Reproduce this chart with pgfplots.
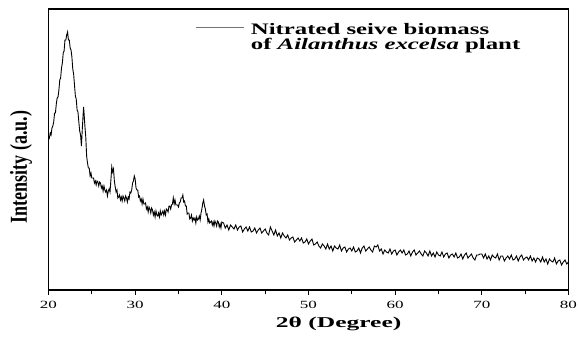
\documentclass[border=0pt]{standalone}
\usepackage{fontspec}
\setmainfont{Liberation Serif}
\usepackage{graphicx}
\usepackage{pgfplots}
\pgfplotsset{compat=1.18}
\begin{document}
\begin{tikzpicture}
\useasboundingbox (-48.5pt,-47pt) rectangle (529.5pt,290pt);
\begin{axis}[
  width=520pt, height=281pt, scale only axis,
  xmin=20, xmax=80, ymin=0, ymax=281,
  xtick={20,30,...,80}, minor xtick={25,35,...,75},
  ytick=\empty,
  xtick pos=left,
  tick align=outside,
  major tick length=5pt, minor tick length=4pt,
  every tick/.style={black, line width=1.2pt},
  axis line style={line width=1.6pt},
  /pgf/number format/assume math mode=true,
  xticklabel={\scalebox{1.55}[1]{\pgfmathprintnumber{\tick}}},
  xticklabel style={font=\fontsize{11}{11}\selectfont, yshift=-3pt},
  xlabel={\scalebox{1.7}[1]{\textbf{2θ (Degree)}}},
  xlabel style={font=\fontsize{15}{15}\selectfont, at={(axis description cs:0.558,-0.1317)}, anchor=base},
  ylabel={\scalebox{1}[1.35]{\textbf{Intensity (a.u.)}}},
  ylabel style={font=\fontsize{18}{18}\selectfont, at={(axis description cs:-0.0529,0.438)}, anchor=center},
  legend style={at={(axis description cs:0.2817,0.955)}, anchor=north west, draw=none, fill=none,
    font=\fontsize{16}{16}\selectfont\bfseries, row sep=-2pt, inner sep=0pt, column sep=5pt},
  legend cell align=left,
  legend image code/.code={\draw[black!55, line width=0.7pt] (0pt,3pt) -- (48pt,3pt);},
]
\addplot[black, line width=0.9pt] coordinates {
(20.0,154) (20.1,152) (20.2,157) (20.3,155) (20.4,162) (20.5,164) (20.6,168) (20.7,177) (20.8,177) (20.9,186)
(21.0,192) (21.1,193) (21.2,200) (21.3,210) (21.4,212) (21.5,222) (21.6,227) (21.7,237) (21.8,239) (21.9,250)
(22.0,250) (22.1,255) (22.2,258) (22.3,250) (22.4,250) (22.5,242) (22.6,240) (22.7,233) (22.8,221) (22.9,216)
(23.0,205) (23.1,194) (23.2,191) (23.3,180) (23.4,178) (23.5,168) (23.6,159) (23.7,155) (23.8,144) (23.9,161)
(24.0,176) (24.05,183) (24.1,177) (24.2,164) (24.3,153) (24.4,134) (24.5,127) (24.6,122) (24.7,122) (24.8,114) (24.9,117)
(25.0,112) (25.1,112) (25.2,112) (25.3,107) (25.4,109) (25.5,105) (25.6,109) (25.7,108) (25.8,104) (25.9,108)
(26.0,107) (26.1,102) (26.2,104) (26.3,99) (26.4,104) (26.5,100) (26.6,98) (26.7,100) (26.8,94) (26.9,99)
(27.0,101) (27.1,98) (27.2,110) (27.3,123) (27.4,118) (27.5,121) (27.6,109) (27.7,103) (27.8,98) (27.9,100)
(28.0,92) (28.1,93) (28.2,95) (28.3,90) (28.4,93) (28.5,89) (28.6,94) (28.7,92) (28.8,89) (28.9,94)
(29.0,92) (29.1,88) (29.2,93) (29.3,91) (29.4,98) (29.5,97) (29.6,100) (29.7,107) (29.8,109) (29.9,114)
(30.0,111) (30.1,102) (30.2,100) (30.3,100) (30.4,93) (30.5,94) (30.6,89) (30.7,91) (30.8,86) (30.9,91)
(31.0,86) (31.1,86) (31.2,87) (31.3,81) (31.4,83) (31.5,78) (31.6,83) (31.7,81) (31.8,77) (31.9,82)
(32.0,80) (32.1,75) (32.2,78) (32.3,73) (32.4,79) (32.5,75) (32.6,74) (32.7,77) (32.8,73) (32.9,79)
(33.0,75) (33.1,77) (33.2,79) (33.3,75) (33.4,79) (33.5,75) (33.6,81) (33.7,80) (33.8,78) (33.9,84)
(34.0,84) (34.1,81) (34.2,85) (34.3,86) (34.4,92) (34.5,86) (34.6,90) (34.7,85) (34.8,85) (34.9,85)
(35.0,83) (35.1,87) (35.2,88) (35.3,92) (35.4,92) (35.5,95) (35.6,88) (35.7,89) (35.8,84) (35.9,84)
(36.0,76) (36.1,77) (36.2,77) (36.3,71) (36.4,72) (36.5,75) (36.6,69) (36.7,72) (36.8,70) (36.9,72)
(37.0,67) (37.1,73) (37.2,70) (37.3,71) (37.4,74) (37.5,70) (37.6,77) (37.7,81) (37.8,87) (37.9,90)
(38.0,84) (38.1,81) (38.2,75) (38.3,76) (38.4,68) (38.5,71) (38.6,67) (38.7,68) (38.8,69) (38.9,65)
(39.0,68) (39.1,64) (39.2,69) (39.3,67) (39.4,64) (39.5,69) (39.6,68) (39.7,63) (39.8,66) (39.9,62)
(40.0,68) (40.2,67) (40.4,62) (40.6,65) (40.8,60) (41.0,65) (41.2,63) (41.4,61) (41.6,65) (41.8,60)
(42.0,63) (42.2,64) (42.4,58) (42.6,61) (42.8,63) (43.0,59) (43.2,63) (43.4,58) (43.6,59) (43.8,62)
(44.0,57) (44.2,60) (44.4,62) (44.6,57) (44.8,59) (45.0,61) (45.2,57) (45.4,55) (45.6,63) (45.8,59)
(46.0,55) (46.2,60) (46.4,54) (46.6,57) (46.8,52) (47.0,57) (47.2,54) (47.4,52) (47.6,55) (47.8,50)
(48.0,52) (48.2,53) (48.4,48) (48.6,50) (48.8,52) (49.0,49) (49.2,52) (49.4,47) (49.6,48) (49.8,51)
(50.0,46) (50.2,49) (50.4,51) (50.6,45) (50.8,46) (51.0,48) (51.2,44) (51.4,42) (51.6,46) (51.8,44)
(52.0,41) (52.2,46) (52.4,41) (52.6,44) (52.8,39) (53.0,44) (53.2,42) (53.4,41) (53.6,45) (53.8,39)
(54.0,42) (54.2,43) (54.4,38) (54.6,41) (54.8,42) (55.0,39) (55.2,43) (55.4,38) (55.6,39) (55.8,42)
(56.0,37) (56.2,42) (56.4,44) (56.6,39) (56.8,41) (57.0,43) (57.2,40) (57.4,38) (57.6,44) (57.8,43)
(58.0,45) (58.2,39) (58.4,41) (58.6,36) (58.8,40) (59.0,38) (59.2,37) (59.4,41) (59.6,36) (59.8,39)
(60.0,40) (60.2,35) (60.4,38) (60.6,40) (60.8,37) (61.0,40) (61.2,35) (61.4,36) (61.6,39) (61.8,34)
(62.0,38) (62.2,40) (62.4,35) (62.6,37) (62.8,39) (63.0,36) (63.2,34) (63.4,39) (63.6,37) (63.8,34)
(64.0,39) (64.2,34) (64.4,37) (64.6,33) (64.8,38) (65.0,35) (65.2,34) (65.4,38) (65.6,33) (65.8,36)
(66.0,37) (66.2,32) (66.4,35) (66.6,36) (66.8,33) (67.0,37) (67.2,32) (67.4,33) (67.6,36) (67.8,31)
(68.0,35) (68.2,37) (68.4,32) (68.6,34) (68.8,36) (69.0,32) (69.2,30) (69.4,35) (69.6,35) (69.8,36)
(70.0,36) (70.2,32) (70.4,36) (70.6,31) (70.8,34) (71.0,30) (71.2,35) (71.4,33) (71.6,32) (71.8,36)
(72.0,30) (72.2,34) (72.4,34) (72.6,29) (72.8,32) (73.0,34) (73.2,31) (73.4,35) (73.6,30) (73.8,31)
(74.0,34) (74.2,29) (74.4,33) (74.6,35) (74.8,30) (75.0,32) (75.2,33) (75.4,30) (75.6,34) (75.8,29)
(76.0,32) (76.2,28) (76.4,32) (76.6,31) (76.8,28) (77.0,33) (77.2,28) (77.4,31) (77.6,26) (77.8,31)
(78.0,29) (78.2,28) (78.4,32) (78.6,26) (78.8,29) (79.0,30) (79.2,25) (79.4,28) (79.6,30) (79.8,26)
(80.0,28)
};
\addlegendentry{\scalebox{1.55}[1]{Nitrated seive biomass}}
\addlegendimage{empty legend}
\addlegendentry{\scalebox{1.55}[1]{of \textit{Ailanthus excelsa} plant}}
\end{axis}
\end{tikzpicture}
\end{document}
